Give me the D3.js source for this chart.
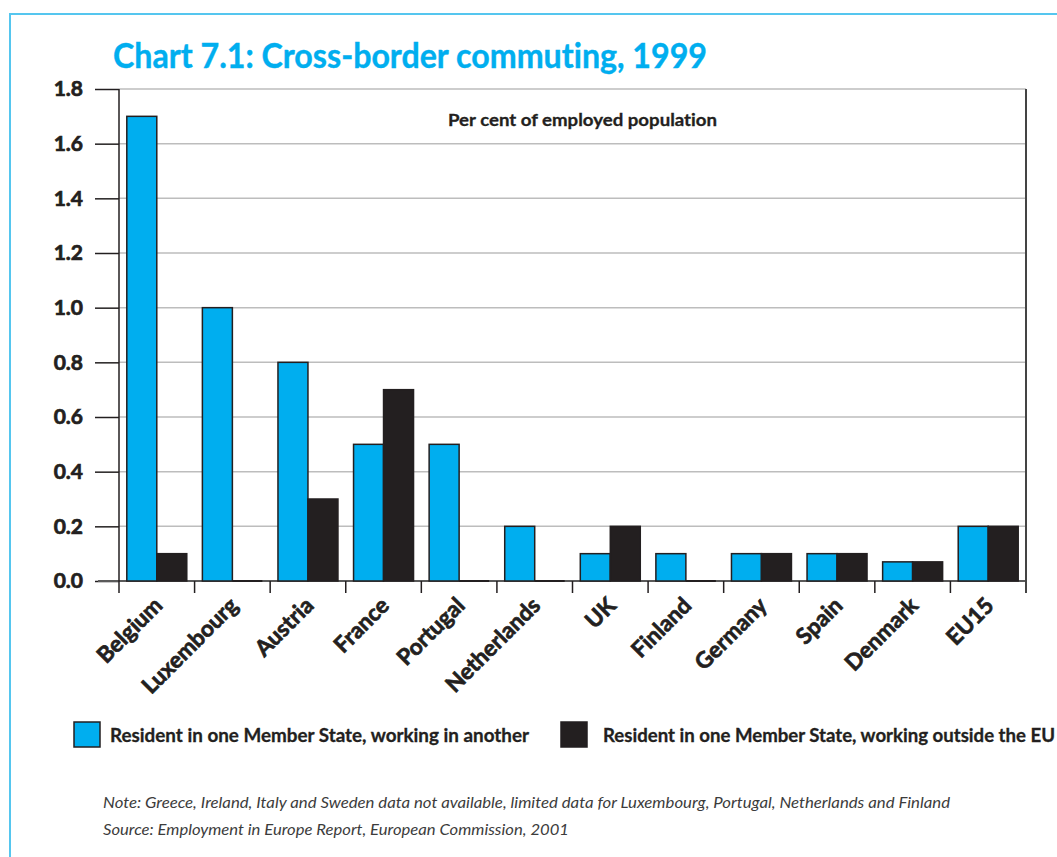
<!DOCTYPE html>
<html>
<head>
<meta charset="utf-8">
<script src="https://cdn.jsdelivr.net/npm/d3@7"></script>
<style>
  html, body { margin: 0; padding: 0; background: #ffffff; }
  svg { display: block; }
  text { font-family: Lato, "Open Sans", "DejaVu Sans", sans-serif; font-variant-ligatures: none; }
</style>
</head>
<body>
<svg id="chart" width="1057" height="857"></svg>
<script>
// Cross-border commuting, 1999 — per cent of employed population
const countries = ["Belgium", "Luxembourg", "Austria", "France", "Portugal", "Netherlands",
                   "UK", "Finland", "Germany", "Spain", "Denmark", "EU15"];
const withinEU  = [1.7, 1.0, 0.8, 0.5, 0.5, 0.2, 0.1, 0.1, 0.1, 0.1, 0.07, 0.2];
const outsideEU = [0.1, 0.0, 0.3, 0.7, 0.0, 0.0, 0.2, 0.0, 0.1, 0.1, 0.07, 0.2];
const seriesNames = ["Resident in one Member State, working in another",
                     "Resident in one Member State, working outside the EU"];
const yTicks = [0, 0.2, 0.4, 0.6, 0.8, 1.0, 1.2, 1.4, 1.6, 1.8];

const BLUE = "#00aeef";
const DARK = "#231f20";

const svg = d3.select("#chart");

// outer light-blue frame
svg.append("rect")
  .attr("x", 10).attr("y", 14).attr("width", 1200).attr("height", 1000)
  .attr("fill", "none").attr("stroke", "#55c6ef").attr("stroke-width", 2);

// title
svg.append("text")
  .attr("x", 113).attr("y", 68)
  .attr("fill", BLUE).attr("stroke", BLUE).attr("stroke-width", 0.4)
  .attr("font-size", 34).attr("font-weight", 700)
  .attr("textLength", 594).attr("lengthAdjust", "spacingAndGlyphs")
  .text("Chart 7.1: Cross-border commuting, 1999");

const plot = { left: 119, right: 1026, top: 89, bottom: 581 };

const x0 = d3.scaleBand().domain(countries).range([plot.left, plot.right]).paddingInner(0).paddingOuter(0);
const x1 = d3.scaleBand().domain([0, 1]).range([0, x0.bandwidth()]).paddingInner(0).paddingOuter(0.26);
const y = d3.scaleLinear().domain([0, 1.8]).range([plot.bottom, plot.top]);

// horizontal gridlines
svg.append("g").selectAll("line")
  .data(yTicks.filter(t => t > 0))
  .join("line")
  .attr("x1", plot.left).attr("x2", plot.right)
  .attr("y1", d => y(d)).attr("y2", d => y(d))
  .attr("stroke", "#bdbdbd").attr("stroke-width", 1.5);

// y axis with outward ticks
const yAxis = d3.axisLeft(y).tickValues(yTicks).tickFormat(d3.format(".1f"))
  .tickSize(24).tickPadding(12);
const gy = svg.append("g").attr("transform", `translate(${plot.left},0)`).call(yAxis);
gy.select(".domain").remove();
gy.selectAll(".tick line").attr("stroke", DARK).attr("stroke-width", 1.5);
gy.selectAll(".tick text")
  .attr("font-family", "Lato, 'Open Sans', sans-serif")
  .attr("font-size", 21).attr("font-weight", 700).attr("fill", DARK)
  .attr("stroke", DARK).attr("stroke-width", 0.7);

// zero baseline
svg.append("line")
  .attr("x1", 98).attr("x2", plot.right)
  .attr("y1", y(0)).attr("y2", y(0))
  .attr("stroke", "#5a5a5a").attr("stroke-width", 2);

// bars
const rows = countries.map((c, i) => ({ c, v: [withinEU[i], outsideEU[i]] }));
const groups = svg.append("g").selectAll("g")
  .data(rows).join("g")
  .attr("transform", d => `translate(${x0(d.c)},0)`);
const barData = d => d.v.map((v, k) => ({ k, v }));
groups.selectAll("rect")
  .data(barData)
  .join("rect")
  .attr("x", d => x1(d.k))
  .attr("width", x1.bandwidth())
  .attr("y", d => y(d.v))
  .attr("height", d => y(0) - y(d.v))
  .attr("fill", d => d.k === 0 ? BLUE : DARK)
  .attr("stroke", DARK).attr("stroke-width", 1.5);
// bars of zero height still show their outline along the baseline
groups.selectAll("line.zero")
  .data(d => barData(d).filter(b => b.v === 0))
  .join("line")
  .attr("class", "zero")
  .attr("x1", d => x1(d.k)).attr("x2", d => x1(d.k) + x1.bandwidth())
  .attr("y1", y(0)).attr("y2", y(0))
  .attr("stroke", DARK).attr("stroke-width", 2);

// left axis line and right edge
svg.append("line")
  .attr("x1", plot.left).attr("x2", plot.left)
  .attr("y1", plot.top).attr("y2", y(0) + 12)
  .attr("stroke", DARK).attr("stroke-width", 1.5);
svg.append("line")
  .attr("x1", plot.right).attr("x2", plot.right)
  .attr("y1", plot.top).attr("y2", y(0) + 12)
  .attr("stroke", "#444").attr("stroke-width", 2);

// category separators below the baseline
svg.append("g").selectAll("line")
  .data(countries.slice(1))
  .join("line")
  .attr("x1", d => x0(d)).attr("x2", d => x0(d))
  .attr("y1", y(0)).attr("y2", y(0) + 12)
  .attr("stroke", DARK).attr("stroke-width", 1.5);

// category labels, rotated
svg.append("g").selectAll("text")
  .data(countries)
  .join("text")
  .attr("transform", d => `translate(${x0(d) + x0.bandwidth() / 2 + 7},${y(0) + 26}) rotate(-45)`)
  .attr("text-anchor", "end")
  .attr("font-size", 22.5).attr("font-weight", 700).attr("fill", DARK)
  .attr("stroke", DARK).attr("stroke-width", 0.7)
  .text(d => d);

// unit label
svg.append("text")
  .attr("x", 448).attr("y", 126)
  .attr("font-size", 17).attr("font-weight", 700).attr("fill", DARK)
  .attr("stroke", DARK).attr("stroke-width", 0.3)
  .attr("textLength", 269).attr("lengthAdjust", "spacingAndGlyphs")
  .text("Per cent of employed population");

// legend
const legend = [
  { sx: 74, tx: 110, len: 419, color: BLUE, label: seriesNames[0] },
  { sx: 561, tx: 603, len: 452, color: DARK, label: seriesNames[1] }
];
const lg = svg.append("g").selectAll("g").data(legend).join("g");
lg.append("rect")
  .attr("x", d => d.sx).attr("y", 722).attr("width", 26).attr("height", 25)
  .attr("fill", d => d.color).attr("stroke", DARK).attr("stroke-width", 1.5);
lg.append("text")
  .attr("x", d => d.tx).attr("y", 742)
  .attr("font-size", 18).attr("font-weight", 700).attr("fill", DARK)
  .attr("stroke", DARK).attr("stroke-width", 0.3)
  .attr("textLength", d => d.len).attr("lengthAdjust", "spacingAndGlyphs")
  .text(d => d.label);

// notes
const notes = [
  { text: "Note: Greece, Ireland, Italy and Sweden data not available, limited data for Luxembourg, Portugal, Netherlands and Finland", y: 808, len: 847 },
  { text: "Source: Employment in Europe Report, European Commission, 2001", y: 835, len: 466 }
];
svg.append("g").selectAll("text")
  .data(notes).join("text")
  .attr("x", 103).attr("y", d => d.y)
  .attr("font-size", 16).attr("font-style", "italic").attr("font-weight", 400)
  .attr("fill", "#3c3c3c")
  .attr("textLength", d => d.len).attr("lengthAdjust", "spacingAndGlyphs")
  .text(d => d.text);
</script>
</body>
</html>
